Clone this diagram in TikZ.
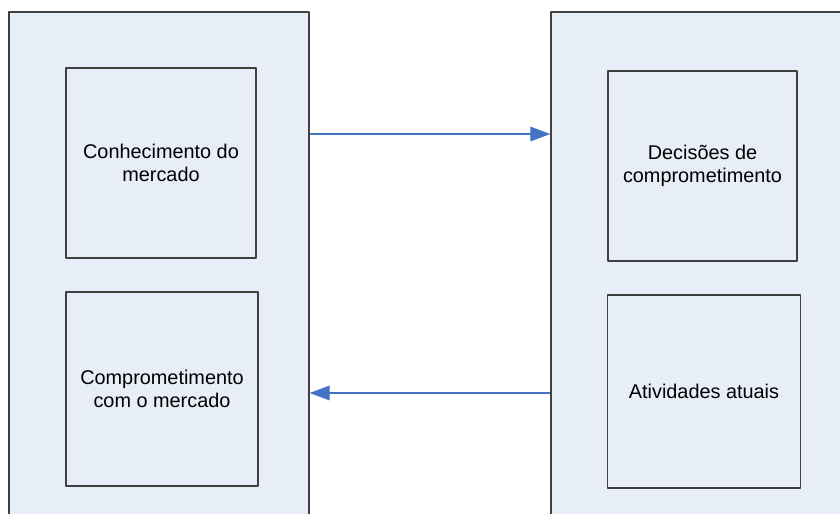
\documentclass[tikz,border=0pt]{standalone}
\usepackage{fontspec}
\setmainfont{Liberation Sans}
\usetikzlibrary{arrows.meta}
\definecolor{panelfill}{RGB}{232,238,247}
\definecolor{edgegray}{RGB}{64,64,64}
\definecolor{linkblue}{RGB}{68,114,196}
\tikzset{
  panel/.style={draw=edgegray, line width=1pt, fill=panelfill, minimum width=225pt, minimum height=450pt, inner sep=0pt},
  box/.style={draw=edgegray, line width=0.8pt, minimum width=142.5pt, minimum height=142.5pt, inner sep=0pt, align=center, font=\fontsize{14.9}{17.4}\selectfont},
  link/.style={->, draw=linkblue, line width=0.8pt}
}
\begin{document}
\begin{tikzpicture}[x=0.75pt,y=-0.75pt,>={Triangle[length=15pt,width=11pt]}, line join=round]
  \useasboundingbox (0,0) rectangle (840,514);
  \clip (0,0) rectangle (840,514);
  % paineis
  \node[panel] (lpanel) at (159,312) {};
  \node[panel] (rpanel) at (701,312) {};
  % caixas
  \node[box] (know) at (161,163) {Conhecimento do\\mercado};
  \node[box, minimum width=144pt, minimum height=145.5pt] (commit) at (162,389) {Comprometimento\\com o mercado};
  \node[box, minimum width=141.75pt] (decide) at (702.5,166) {Decisões de\\comprometimento};
  \node[box, minimum width=144.75pt, minimum height=144.75pt] (act) at (704,391.5) {Atividades atuais};
  % ligacoes
  \coordinate (l1) at (lpanel.east |- 0,134);
  \coordinate (r1) at (rpanel.west |- 0,134);
  \coordinate (l2) at (lpanel.east |- 0,393);
  \coordinate (r2) at (rpanel.west |- 0,393);
  \draw[link] (l1) -- (r1);
  \draw[link] (r2) -- (l2);
\end{tikzpicture}
\end{document}
